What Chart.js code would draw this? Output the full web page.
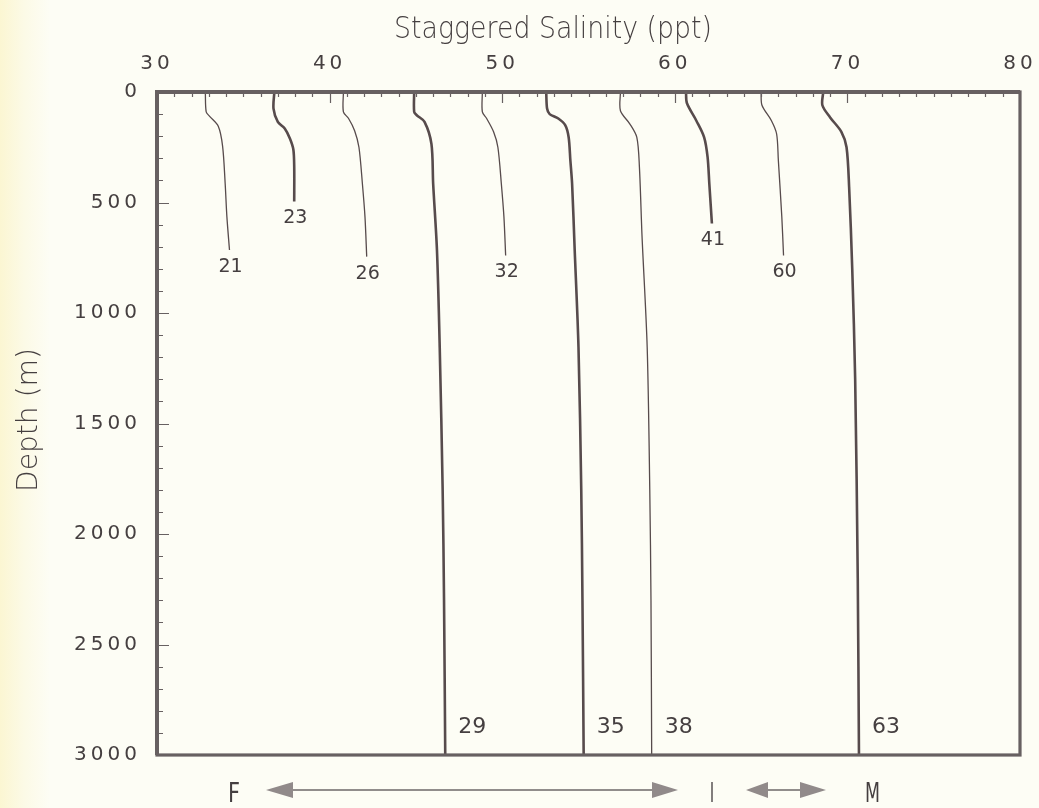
<!DOCTYPE html>
<html>
<head>
<meta charset="utf-8">
<script src="https://cdn.jsdelivr.net/npm/chart.js@4.4.0/dist/chart.umd.min.js"></script>
<style>
  html, body { margin: 0; padding: 0; }
  body {
    width: 1039px; height: 808px; overflow: hidden;
    background: linear-gradient(to right, #fbf6d2 0px, #fcfae6 24px, #fdfdf5 50px, #fdfdf5 100%);
  }
  #wrap { position: relative; width: 1039px; height: 808px; }
</style>
</head>
<body>
<div id="wrap"><canvas id="salinityChart"></canvas></div>
<script>
// station profiles: staggered salinity (ppt) vs depth (m)
const curveIds = ["21", "23", "26", "29", "32", "35", "38", "41", "60", "63"];

const sal21 = [32.8, 32.85, 33.05, 33.55, 33.8, 33.95, 34.05, 34.2];
const depth21 = [0, 90, 110, 155, 245, 415, 565, 715];

const sal23 = [36.8, 36.75, 37.0, 37.4, 37.7, 37.9, 37.95, 37.95];
const depth23 = [0, 75, 135, 165, 210, 260, 340, 495];

const sal26 = [40.8, 40.8, 41.1, 41.45, 41.7, 41.9, 42.05, 42.15];
const depth26 = [0, 90, 120, 175, 250, 415, 565, 745];

const sal29 = [44.9, 44.9, 45.05, 45.5, 45.9, 46.0, 46.22, 46.38, 46.55, 46.63, 46.7];
const depth29 = [0, 90, 105, 135, 235, 415, 715, 1155, 1800, 2300, 3000];

const sal32 = [48.85, 48.85, 49.1, 49.5, 49.75, 49.95, 50.1, 50.2];
const depth32 = [0, 90, 120, 180, 250, 415, 565, 740];

const sal35 = [52.55, 52.6, 52.75, 53.25, 53.65, 53.85, 53.95, 54.05, 54.2, 54.42, 54.58, 54.65, 54.72];
const depth35 = [0, 75, 100, 120, 150, 205, 310, 415, 715, 1155, 1800, 2300, 3000];

const sal38 = [56.85, 56.85, 57.4, 57.8, 57.95, 58.1, 58.4, 58.55, 58.62, 58.66];
const depth38 = [0, 85, 145, 205, 340, 650, 1155, 1800, 2300, 3000];

const sal41 = [60.65, 60.7, 61.25, 61.7, 61.9, 62.0, 62.15];
const depth41 = [0, 50, 130, 205, 295, 415, 595];

const sal60 = [65.0, 65.05, 65.6, 65.9, 66.0, 66.2, 66.3];
const depth60 = [0, 60, 130, 190, 310, 565, 740];

const sal63 = [68.6, 68.55, 69.0, 69.65, 69.95, 70.1, 70.28, 70.45, 70.6, 70.67];
const depth63 = [0, 60, 115, 180, 250, 430, 800, 1300, 2200, 3000];

const salinityTicks = [30, 40, 50, 60, 70, 80];
const depthTicks = [0, 500, 1000, 1500, 2000, 2500, 3000];

const salinity = { "21": sal21, "23": sal23, "26": sal26, "29": sal29, "32": sal32,
                   "35": sal35, "38": sal38, "41": sal41, "60": sal60, "63": sal63 };
const depth = { "21": depth21, "23": depth23, "26": depth26, "29": depth29, "32": depth32,
                "35": depth35, "38": depth38, "41": depth41, "60": depth60, "63": depth63 };

const thickCurves = ["23", "29", "35", "41", "63"];

const INK = "#574b4c";
const FRAME = "#676061";
const TEXT = "#453f40";

function condensedText(ctx, text, x, y, width) {
    // squeeze text to a given width (the original lettering is narrow)
    const w = ctx.measureText(text).width;
    ctx.save();
    ctx.translate(x, y);
    ctx.scale(width / w, 1);
    ctx.fillText(text, 0, 0);
    ctx.restore();
}

function arrowHead(ctx, tipX, baseX, y, half) {
    ctx.beginPath();
    ctx.moveTo(tipX, y);
    ctx.lineTo(baseX, y - half);
    ctx.lineTo(baseX, y + half);
    ctx.closePath();
    ctx.fill();
}

const decorations = {
    id: "decorations",
    beforeDraw(chart) {
        chart.ctx.letterSpacing = "4px";
    },
    afterDraw(chart) {
        const ctx = chart.ctx;
        const a = chart.chartArea;
        const xs = chart.scales.x;
        const ys = chart.scales.y;
        ctx.save();
        ctx.letterSpacing = "0px";

        // inward tick marks
        ctx.strokeStyle = FRAME;
        ctx.lineWidth = 1.2;
        ctx.beginPath();
        for (let v = 31; v < 80; v++) {
            const px = Math.round(xs.getPixelForValue(v)) + 0.5;
            const len = v % 10 === 0 ? 11 : 5;
            ctx.moveTo(px, a.top);
            ctx.lineTo(px, a.top + len);
        }
        for (let d = 100; d < 3000; d += 100) {
            const py = Math.round(ys.getPixelForValue(d)) + 0.5;
            const len = d % 500 === 0 ? 12 : 6;
            ctx.moveTo(a.left, py);
            ctx.lineTo(a.left + len, py);
        }
        ctx.stroke();

        // frame: heavier top and left axes
        ctx.lineWidth = 3.2;
        ctx.strokeRect(a.left, a.top, a.right - a.left, a.bottom - a.top);
        ctx.lineWidth = 4;
        ctx.beginPath();
        ctx.moveTo(a.left, a.bottom);
        ctx.lineTo(a.left, a.top);
        ctx.lineTo(a.right, a.top);
        ctx.stroke();

        // station numbers at the end of each profile
        ctx.fillStyle = TEXT;
        ctx.textBaseline = "middle";
        chart.data.datasets.forEach(ds => {
            const last = ds.data[ds.data.length - 1];
            const px = xs.getPixelForValue(last.x);
            const py = ys.getPixelForValue(last.y);
            if (last.y >= 3000) {
                ctx.font = "22px 'DejaVu Sans'";
                ctx.textAlign = "left";
                ctx.fillText(ds.label, px + 13, py - 28);
            } else {
                ctx.font = "19px 'DejaVu Sans'";
                ctx.textAlign = "center";
                ctx.fillText(ds.label, px + 1, py + 17);
            }
        });

        // axis titles
        ctx.textAlign = "left";
        ctx.textBaseline = "alphabetic";
        ctx.font = "200 30px 'DejaVu Sans'";
        condensedText(ctx, "Staggered Salinity (ppt)", 394, 38, 318);

        ctx.save();
        ctx.translate(37, 492);
        ctx.rotate(-Math.PI / 2);
        ctx.font = "200 28px 'DejaVu Sans'";
        condensedText(ctx, "Depth (m)", 0, 0, 144);
        ctx.restore();

        // F <-> I <-> M scale under the plot
        ctx.font = "27px 'DejaVu Sans'";
        condensedText(ctx, "F", 228, 802, 12);
        condensedText(ctx, "I", 710, 802, 4);
        condensedText(ctx, "M", 865, 802, 15);

        ctx.strokeStyle = "#6e6868";
        ctx.lineWidth = 1.5;
        ctx.beginPath();
        ctx.moveTo(290, 790); ctx.lineTo(655, 790);
        ctx.moveTo(766, 790); ctx.lineTo(802, 790);
        ctx.stroke();
        ctx.fillStyle = "#918a8a";
        arrowHead(ctx, 266, 293, 790, 8);
        arrowHead(ctx, 678, 652, 790, 8);
        arrowHead(ctx, 746, 768, 790, 8);
        arrowHead(ctx, 826, 800, 790, 8);

        ctx.restore();
    }
};

const datasets = curveIds.map(id => ({
    label: id,
    data: salinity[id].map((s, i) => ({ x: s, y: depth[id][i] })),
    borderColor: INK,
    borderWidth: thickCurves.includes(id) ? 2.6 : 1.3,
    showLine: true,
    fill: false,
    pointRadius: 0,
    tension: 0.3
}));

new Chart(document.getElementById("salinityChart"), {
    type: "scatter",
    data: { datasets: datasets },
    options: {
        responsive: true,
        maintainAspectRatio: false,
        animation: false,
        layout: { padding: { top: 0, left: 0, right: 19, bottom: 53 } },
        plugins: {
            legend: { display: false },
            tooltip: { enabled: false }
        },
        scales: {
            x: {
                type: "linear",
                position: "top",
                min: 30,
                max: 80,
                afterBuildTicks: s => { s.ticks = salinityTicks.map(v => ({ value: v })); },
                afterFit: s => { s.height = 92; s.paddingLeft = 0; s.paddingRight = 0; },
                grid: { display: false, drawTicks: false },
                border: { display: false },
                ticks: {
                    font: { family: "DejaVu Sans", size: 20 },
                    color: TEXT,
                    padding: 16,
                    maxRotation: 0,
                    autoSkip: false,
                    callback: v => String(v)
                }
            },
            y: {
                type: "linear",
                position: "left",
                reverse: true,
                min: 0,
                max: 3000,
                afterBuildTicks: s => { s.ticks = depthTicks.map(v => ({ value: v })); },
                afterFit: s => { s.width = 157; s.paddingTop = 0; s.paddingBottom = 0; },
                grid: { display: false, drawTicks: false },
                border: { display: false },
                ticks: {
                    font: { family: "DejaVu Sans", size: 20 },
                    color: TEXT,
                    padding: 16,
                    autoSkip: false,
                    callback: v => String(v)
                }
            }
        }
    },
    plugins: [decorations]
});
</script>
</body>
</html>
